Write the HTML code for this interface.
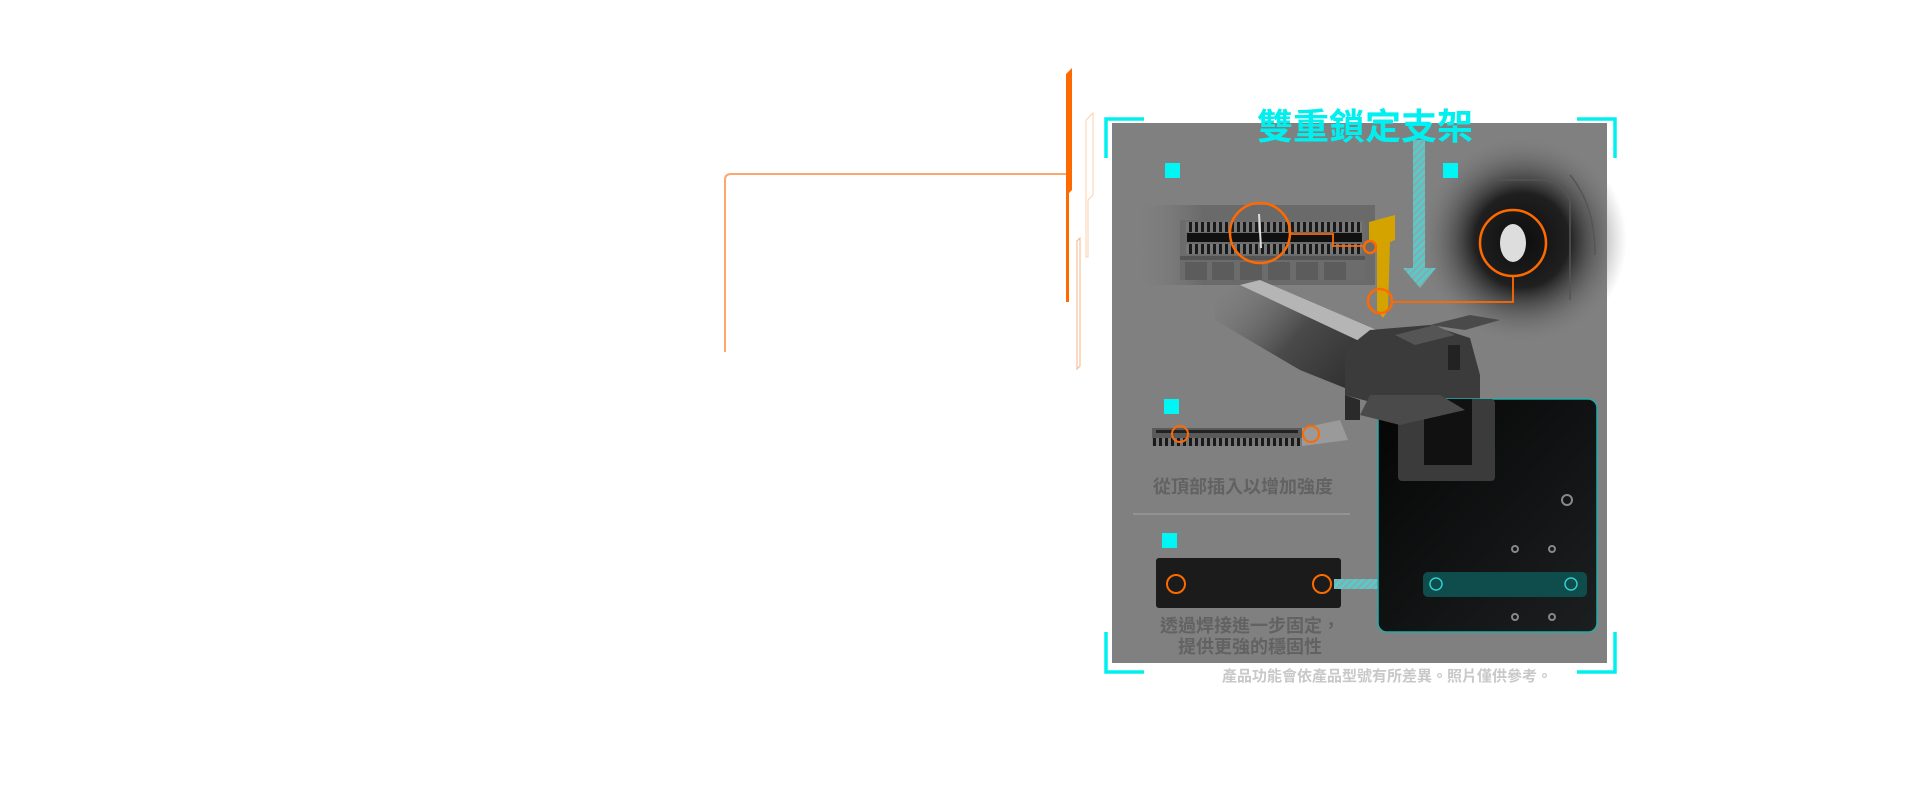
<!DOCTYPE html>
<html><head><meta charset="utf-8"><style>
html,body{margin:0;padding:0;background:#fff;width:1920px;height:800px;overflow:hidden;position:relative;font-family:"Liberation Sans","Noto Sans CJK TC",sans-serif}
.a{position:absolute}
.t{position:absolute;font-weight:bold;white-space:nowrap;font-family:"Liberation Sans","Noto Sans CJK TC",sans-serif}
</style></head><body>
<svg class="a" style="left:0;top:0" width="1920" height="800" viewBox="0 0 1920 800">
<defs>
<radialGradient id="blob" cx="0.5" cy="0.5" r="0.5"><stop offset="0" stop-color="#000"/><stop offset="0.45" stop-color="#151515"/><stop offset="1" stop-color="#808080" stop-opacity="0"/></radialGradient>
<linearGradient id="slot" x1="0" x2="1"><stop offset="0" stop-color="#808080" stop-opacity="0"/><stop offset="0.3" stop-color="#6a6a6a"/><stop offset="1" stop-color="#6a6a6a"/></linearGradient>
<linearGradient id="riser" x1="0" y1="0" x2="1" y2="0.6"><stop offset="0" stop-color="#808080" stop-opacity="0"/><stop offset="0.5" stop-color="#4a4a4a"/><stop offset="1" stop-color="#2a2a2a"/></linearGradient>
<linearGradient id="dark" x1="0" y1="0" x2="1" y2="1"><stop offset="0" stop-color="#050505"/><stop offset="1" stop-color="#1c1f20"/></linearGradient>
<pattern id="hatch" width="5" height="5" patternUnits="userSpaceOnUse" patternTransform="rotate(45)"><rect width="5" height="5" fill="#5cc"/><rect width="2.2" height="5" fill="#8aa"/></pattern>
<pattern id="teeth" width="6" height="10" patternUnits="userSpaceOnUse"><rect width="6" height="10" fill="#777"/><rect x="1" width="3" height="10" fill="#1a1a1a"/></pattern>
</defs>
<path d="M725 352 V180 q0 -6 6 -6 H1067" fill="none" stroke="#fba86e" stroke-width="2"/>
<polygon points="1066,74 1072,68 1072,190 1069,193 1069,302 1066,302" fill="#ff6a00"/>
<polygon points="1086,120 1093,113 1093,195 1088,200 1088,257 1086,257" fill="none" stroke="#fcd2b0" stroke-width="1"/>
<polygon points="1077,241 1080,238 1080,366 1077,369" fill="none" stroke="#f7b58a" stroke-width="1"/>
<!-- panel -->
<rect x="1112" y="123" width="495" height="540" fill="#808080"/>
<!-- top-left slot image -->
<rect x="1130" y="205" width="245" height="80" fill="url(#slot)"/>
<rect x="1180" y="220" width="185" height="60" fill="#6c6c6c"/>
<rect x="1186" y="222" width="176" height="10" fill="url(#teeth)"/>
<rect x="1187" y="233" width="175" height="9" fill="#111"/>
<rect x="1186" y="244" width="176" height="10" fill="url(#teeth)"/>
<g fill="#555"><rect x="1180" y="256" width="185" height="4"/></g>
<g fill="#5c5c5c"><rect x="1185" y="262" width="22" height="18"/><rect x="1212" y="262" width="22" height="18"/><rect x="1240" y="262" width="22" height="18"/><rect x="1268" y="262" width="22" height="18"/><rect x="1296" y="262" width="22" height="18"/><rect x="1324" y="262" width="22" height="18"/></g>
<line x1="1259" y1="214" x2="1261" y2="248" stroke="#ddd" stroke-width="2"/>
<!-- dark blob right -->
<circle cx="1522" cy="240" r="105" fill="url(#blob)" opacity="0.9"/>
<path d="M1490 180 H1540 q20 0 30 20 V300 M1570 175 q25 30 25 80" stroke="#555" fill="none" stroke-width="1.5"/>
<ellipse cx="1513" cy="243" rx="13" ry="19" fill="#ddd"/>
<!-- riser -->
<polygon points="1215,300 1240,285 1400,360 1400,410 1300,370 1215,320" fill="url(#riser)"/>
<polygon points="1240,285 1260,280 1400,340 1400,360" fill="#b5b5b5"/>
<polygon points="1370,330 1430,325 1470,338 1480,375 1480,400 1460,410 1400,410 1345,395 1345,350" fill="#3b3b3b"/>
<polygon points="1395,335 1435,325 1455,335 1415,345" fill="#555"/>
<polygon points="1430,325 1470,315 1500,320 1465,330" fill="#4a4a4a"/>
<rect x="1448" y="345" width="12" height="25" fill="#222"/>
<polygon points="1345,395 1360,400 1360,420 1345,420" fill="#2a2a2a"/>
<!-- yellow key -->
<polygon points="1369,222 1395,215 1395,240 1390,242 1388,310 1383,318 1377,310 1377,244 1369,240" fill="#d4a300"/>
<!-- hatched arrow -->
<rect x="1413" y="140" width="12" height="128" fill="url(#hatch)"/>
<polygon points="1403,268 1436,268 1420,288" fill="url(#hatch)"/>
<g fill="none" stroke="#ff6a00" stroke-width="2.5">
<circle cx="1260" cy="233" r="30"/>
<circle cx="1370" cy="247" r="6"/>
<circle cx="1380" cy="301" r="12"/>
<circle cx="1513" cy="243" r="33"/>
<path d="M1290 234 H1333 V246 H1364" stroke-width="1.8"/>
<path d="M1392 302 H1513 V276" stroke-width="1.8"/>
</g>
<!-- middle slot -->
<rect x="1152" y="428" width="150" height="10" fill="#5a5a5a"/>
<rect x="1156" y="430" width="142" height="3" fill="#222"/>
<rect x="1152" y="438" width="150" height="8" fill="url(#teeth)"/>
<polygon points="1302,428 1340,420 1348,440 1302,446" fill="#9a9a9a"/>
<g fill="none" stroke="#ff6a00" stroke-width="2"><circle cx="1180" cy="434" r="8"/><circle cx="1311" cy="434" r="8"/></g>
<!-- separator -->
<line x1="1133" y1="514" x2="1350" y2="514" stroke="#999" stroke-width="1.5"/>
<!-- dark strip -->
<rect x="1156" y="558" width="185" height="50" rx="3" fill="#1b1b1b"/>
<g fill="none" stroke="#ff6a00" stroke-width="2"><circle cx="1176" cy="584" r="9"/><circle cx="1322" cy="584" r="9"/></g>
<rect x="1334" y="579" width="70" height="10" fill="url(#hatch)"/>
<polygon points="1402,568 1420,584 1402,600 1408,584" fill="#3cc"/>
<!-- dark motherboard panel -->
<rect x="1378" y="399" width="219" height="233" rx="9" fill="url(#dark)" stroke="#2aa" stroke-width="1.5"/>
<rect x="1398" y="399" width="97" height="82" rx="4" fill="#3b3b3b"/>
<rect x="1424" y="399" width="48" height="66" fill="#111"/>
<polygon points="1370,395 1440,395 1465,410 1400,425 1360,415" fill="#4a4a4a"/>
<rect x="1423" y="572" width="164" height="25" rx="5" fill="#0f4c4c"/>
<g fill="none" stroke="#3cc" stroke-width="1.5"><circle cx="1436" cy="584" r="6"/><circle cx="1571" cy="584" r="6"/></g>
<g fill="none" stroke="#888" stroke-width="2"><circle cx="1515" cy="549" r="3"/><circle cx="1552" cy="549" r="3"/><circle cx="1515" cy="617" r="3"/><circle cx="1552" cy="617" r="3"/><circle cx="1567" cy="500" r="5"/></g>
<g fill="#00f5f5"><rect x="1165" y="163" width="15" height="15"/><rect x="1443" y="163" width="15" height="15"/><rect x="1164" y="399" width="15" height="15"/><rect x="1162" y="533" width="15" height="15"/></g>
<g fill="none" stroke="#00f0f0" stroke-width="3.5">
<path d="M1144 119 H1106 V158"/>
<path d="M1577 119 H1615 V158"/>
<path d="M1106 632 V672 H1144"/>
<path d="M1615 632 V672 H1577"/>
</g>
</svg>
<div class="t" style="left:1257px;top:98px;font-size:36px;color:#00f0f0">雙重鎖定支架</div>
<div class="t" style="left:1153px;top:473px;font-size:18px;color:#626262">從頂部插入以增加強度</div>
<div class="t" style="left:1158px;top:616px;font-size:18px;color:#626262;line-height:21px;text-align:center;width:184px">透過焊接進一步固定，<br>提供更強的穩固性</div>
<div class="t" style="left:1222px;top:665px;font-size:15px;color:#c8c8c8">產品功能會依產品型號有所差異。照片僅供參考。</div>
</body></html>
